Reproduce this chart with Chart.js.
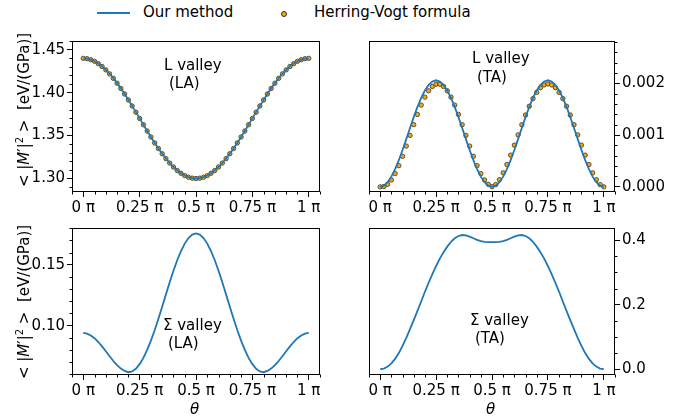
<!DOCTYPE html>
<html>
<head>
<meta charset="utf-8">
<script src="https://cdn.jsdelivr.net/npm/chart.js@4.4.0/dist/chart.umd.min.js"></script>
<style>
    html, body { margin: 0; padding: 0; background: #fff; }
    body { width: 693px; height: 420px; position: relative; overflow: hidden; font-family: "DejaVu Sans", sans-serif; color: #000; }
    canvas { position: absolute; }
    .txt { position: absolute; font-size: 15px; line-height: 18px; white-space: pre; }
    .ylab { position: absolute; width: 220px; text-align: center; font-size: 15px; line-height: 18px; white-space: pre; transform: rotate(-90deg); }
    .ylab sup { font-size: 10px; line-height: 0; vertical-align: 6px; }
    .legline { position: absolute; height: 2px; background: #1f77b4; }
    .legdot { position: absolute; width: 4px; height: 4px; border-radius: 50%; background: #ffa500; border: 0.8px solid #333; }
</style>
</head>
<body>

<div class="legline" style="left:97px; top:12px; width:33px;"></div>
<div class="txt" style="left:143px; top:3px;">Our method</div>
<div class="legdot" style="left:281px; top:11px;"></div>
<div class="txt" style="left:314px; top:3px;">Herring-Vogt formula</div>

<canvas id="chartLA_L" width="300" height="190" style="left:30px; top:30px;"></canvas>
<canvas id="chartTA_L" width="321" height="190" style="left:359px; top:30px;"></canvas>
<canvas id="chartLA_S" width="300" height="190" style="left:30px; top:217px;"></canvas>
<canvas id="chartTA_S" width="321" height="190" style="left:359px; top:217px;"></canvas>

<div class="txt" style="left:164px; top:56px;">L valley</div>
<div class="txt" style="left:169px; top:74px;">(LA)</div>
<div class="txt" style="left:472px; top:49px;">L valley</div>
<div class="txt" style="left:477px; top:68px;">(TA)</div>
<div class="txt" style="left:163px; top:316px;">Σ valley</div>
<div class="txt" style="left:168px; top:334px;">(LA)</div>
<div class="txt" style="left:470px; top:311px;">Σ valley</div>
<div class="txt" style="left:475px; top:329px;">(TA)</div>

<div class="ylab" style="left:-86px; top:101px;">&lt; |<i>M</i>′|<sup>2</sup> &gt;  [eV/(GPa)]</div>
<div class="ylab" style="left:-86px; top:293px;">&lt; |<i>M</i>′|<sup>2</sup> &gt;  [eV/(GPa)]</div>

<div class="txt" style="left:190px; top:400px; font-style:italic;">θ</div>
<div class="txt" style="left:486px; top:400px; font-style:italic;">θ</div>

<script>
// angulo en grados (0 .. 180), se pasa a unidades de pi
const thetaDeg = [0, 3, 6, 9, 12, 15, 18, 21, 24, 27, 30, 33, 36, 39, 42, 45, 48, 51, 54, 57,
    60, 63, 66, 69, 72, 75, 78, 81, 84, 87, 90, 93, 96, 99, 102, 105, 108, 111, 114, 117,
    120, 123, 126, 129, 132, 135, 138, 141, 144, 147, 150, 153, 156, 159, 162, 165, 168, 171, 174, 177, 180];

// L valley, LA
const lLA_method = [1.4400, 1.4396, 1.4385, 1.4366, 1.4339, 1.4306, 1.4266, 1.4220, 1.4168, 1.4111,
    1.4050, 1.3985, 1.3916, 1.3846, 1.3773, 1.3700, 1.3627, 1.3554, 1.3484, 1.3415,
    1.3350, 1.3289, 1.3232, 1.3180, 1.3134, 1.3094, 1.3061, 1.3034, 1.3015, 1.3004, 1.3000,
    1.3004, 1.3015, 1.3034, 1.3061, 1.3094, 1.3134, 1.3180, 1.3232, 1.3289, 1.3350,
    1.3415, 1.3484, 1.3554, 1.3627, 1.3700, 1.3773, 1.3846, 1.3916, 1.3985, 1.4050,
    1.4111, 1.4168, 1.4220, 1.4266, 1.4306, 1.4339, 1.4366, 1.4385, 1.4396, 1.4400];
const lLA_hv = [1.4400, 1.4396, 1.4384, 1.4365, 1.4338, 1.4305, 1.4265, 1.4219, 1.4167, 1.4110,
    1.4049, 1.3984, 1.3915, 1.3845, 1.3772, 1.3699, 1.3626, 1.3553, 1.3483, 1.3414,
    1.3349, 1.3288, 1.3231, 1.3179, 1.3133, 1.3093, 1.3060, 1.3033, 1.3014, 1.3003, 1.2999,
    1.3003, 1.3014, 1.3033, 1.3060, 1.3093, 1.3133, 1.3179, 1.3231, 1.3288, 1.3349,
    1.3414, 1.3483, 1.3553, 1.3626, 1.3699, 1.3772, 1.3845, 1.3915, 1.3984, 1.4049,
    1.4110, 1.4167, 1.4219, 1.4265, 1.4305, 1.4338, 1.4365, 1.4384, 1.4396, 1.4400];

// L valley, TA
const lTA_method = [0, 0.000023, 0.000089, 0.000197, 0.000341, 0.000515, 0.000712, 0.000922, 0.001138, 0.001348,
    0.001545, 0.001719, 0.001863, 0.001971, 0.002037, 0.002060, 0.002037, 0.001971, 0.001863, 0.001719,
    0.001545, 0.001348, 0.001138, 0.000922, 0.000712, 0.000515, 0.000341, 0.000197, 0.000089, 0.000023, 0,
    0.000023, 0.000089, 0.000197, 0.000341, 0.000515, 0.000712, 0.000922, 0.001138, 0.001348, 0.001545,
    0.001719, 0.001863, 0.001971, 0.002037, 0.002060, 0.002037, 0.001971, 0.001863, 0.001719, 0.001545,
    0.001348, 0.001138, 0.000922, 0.000712, 0.000515, 0.000341, 0.000197, 0.000089, 0.000023, 0];
const lTA_hv = [0, 0.000006, 0.000049, 0.000133, 0.000256, 0.000410, 0.000590, 0.000788, 0.000995, 0.001202,
    0.001400, 0.001580, 0.001734, 0.001857, 0.001941, 0.001985, 0.001985, 0.001941, 0.001857, 0.001734,
    0.001580, 0.001400, 0.001202, 0.000995, 0.000788, 0.000590, 0.000410, 0.000256, 0.000133, 0.000049, 0.000003,
    0.000043, 0.000138, 0.000270, 0.000431, 0.000613, 0.000806, 0.001005, 0.001201, 0.001388, 0.001558,
    0.001706, 0.001827, 0.001917, 0.001971, 0.001990, 0.001971, 0.001917, 0.001827, 0.001706, 0.001558,
    0.001388, 0.001201, 0.001005, 0.000806, 0.000613, 0.000431, 0.000270, 0.000138, 0.000043, 0];

// Sigma valley, LA
const sLA_method = [0.0940, 0.0935, 0.0920, 0.0897, 0.0866, 0.0830, 0.0790, 0.0749, 0.0710, 0.0676,
    0.0648, 0.0628, 0.0618, 0.0624, 0.0646, 0.0684, 0.0735, 0.0801, 0.0877, 0.0963,
    0.1057, 0.1156, 0.1257, 0.1356, 0.1451, 0.1537, 0.1612, 0.1674, 0.1720, 0.1748, 0.1757,
    0.1748, 0.1720, 0.1674, 0.1612, 0.1537, 0.1451, 0.1356, 0.1257, 0.1156, 0.1057,
    0.0963, 0.0877, 0.0801, 0.0735, 0.0684, 0.0646, 0.0624, 0.0618, 0.0628, 0.0648,
    0.0676, 0.0710, 0.0749, 0.0790, 0.0830, 0.0866, 0.0897, 0.0920, 0.0935, 0.0940];

// Sigma valley, TA
const sTA_method = [0, 0.002, 0.008, 0.018, 0.032, 0.050, 0.072, 0.097, 0.124, 0.152,
    0.181, 0.210, 0.240, 0.268, 0.295, 0.320, 0.343, 0.363, 0.380, 0.395,
    0.406, 0.413, 0.416, 0.415, 0.411, 0.406, 0.401, 0.397, 0.395, 0.394, 0.394,
    0.394, 0.395, 0.397, 0.401, 0.406, 0.411, 0.415, 0.416, 0.413, 0.406,
    0.395, 0.380, 0.363, 0.343, 0.320, 0.295, 0.268, 0.240, 0.210, 0.181,
    0.152, 0.124, 0.097, 0.072, 0.050, 0.032, 0.018, 0.008, 0.002, 0];

// ticks
const xTickValues = [0, 0.25, 0.5, 0.75, 1];
const xTickLabels = ['0 π', '0.25 π', '0.5 π', '0.75 π', '1 π'];
const yTicksLLA = [1.30, 1.35, 1.40, 1.45];
const yTicksLTA = [0, 0.001, 0.002];
const yTicksSLA = [0.10, 0.15];
const yTicksSTA = [0, 0.2, 0.4];

const colors = {
    line: '#1f77b4',
    dot: '#ffa500',
    dotEdge: '#333333',
    axis: '#000000'
};

const tickFont = { family: 'DejaVu Sans', size: 15 };

function toXY(ys) {
    return ys.map((y, i) => ({ x: thetaDeg[i] / 180, y: y }));
}

// marco completo + ticks menores (matplotlib style)
const frameMinor = {
    id: 'frameMinor',
    afterDraw(chart, args, opts) {
        const ctx = chart.ctx;
        const a = chart.chartArea;
        const xs = chart.scales.x;
        const ys = chart.scales.y;
        ctx.save();
        ctx.strokeStyle = colors.axis;
        ctx.lineWidth = 1;
        const l = Math.round(a.left) + 0.5, r = Math.round(a.right) - 0.5;
        const t = Math.round(a.top) + 0.5, b = Math.round(a.bottom) - 0.5;
        ctx.strokeRect(l, t, r - l, b - t);

        ctx.beginPath();
        const isMajor = (v, list) => list.some(m => Math.abs(m - v) < 1e-9);
        let i0 = Math.ceil(xs.min / opts.x - 1e-6);
        for (let i = i0; i * opts.x <= xs.max + 1e-9; i++) {
            const v = i * opts.x;
            if (isMajor(v, xTickValues)) continue;
            const px = Math.round(xs.getPixelForValue(v)) + 0.5;
            ctx.moveTo(px, b);
            ctx.lineTo(px, b + 3);
        }
        i0 = Math.ceil(ys.min / opts.y - 1e-6);
        for (let i = i0; i * opts.y <= ys.max + 1e-12; i++) {
            const v = i * opts.y;
            if (isMajor(v, opts.majors)) continue;
            const py = Math.round(ys.getPixelForValue(v)) + 0.5;
            if (opts.right) {
                ctx.moveTo(r, py);
                ctx.lineTo(r + 3, py);
            } else {
                ctx.moveTo(l, py);
                ctx.lineTo(l - 3, py);
            }
        }
        ctx.stroke();
        ctx.restore();
    }
};

function makePanel(id, cfg) {
    const datasets = [{
        label: 'Our method',
        data: toXY(cfg.line),
        borderColor: colors.line,
        borderWidth: 1.8,
        pointRadius: 0,
        tension: 0,
        fill: false,
        order: 0
    }];
    if (cfg.dots) {
        datasets.push({
            label: 'Herring-Vogt formula',
            data: toXY(cfg.dots),
            showLine: false,
            pointRadius: 2.2,
            pointBackgroundColor: colors.dot,
            pointBorderColor: colors.dotEdge,
            pointBorderWidth: 0.8,
            order: 1
        });
    }
    const ctx = document.getElementById(id).getContext('2d');
    return new Chart(ctx, {
        type: 'line',
        data: { datasets: datasets },
        options: {
            responsive: false,
            animation: false,
            devicePixelRatio: 1,
            layout: { padding: cfg.padding },
            plugins: {
                legend: { display: false },
                tooltip: { enabled: false },
                frameMinor: { x: 0.05, y: cfg.minorY, majors: cfg.yTicks, right: cfg.right }
            },
            scales: {
                x: {
                    type: 'linear',
                    min: -0.05,
                    max: 1.05,
                    afterBuildTicks: s => { s.ticks = xTickValues.map(v => ({ value: v })); },
                    afterFit: s => { s.height = cfg.xH; },
                    ticks: {
                        autoSkip: false,
                        maxRotation: 0,
                        padding: 2,
                        color: '#000',
                        font: tickFont,
                        callback: (v) => xTickLabels[xTickValues.indexOf(v)]
                    },
                    grid: { drawOnChartArea: false, drawTicks: true, tickLength: 5, tickColor: '#000' },
                    border: { display: false }
                },
                y: {
                    type: 'linear',
                    position: cfg.right ? 'right' : 'left',
                    min: cfg.yMin,
                    max: cfg.yMax,
                    afterBuildTicks: s => { s.ticks = cfg.yTicks.map(v => ({ value: v })); },
                    afterFit: s => { s.width = cfg.yW; },
                    ticks: {
                        autoSkip: false,
                        padding: 2,
                        color: '#000',
                        font: tickFont,
                        callback: (v) => v.toFixed(cfg.decimals)
                    },
                    grid: { drawOnChartArea: false, drawTicks: true, tickLength: 5, tickColor: '#000' },
                    border: { display: false }
                }
            }
        },
        plugins: [frameMinor]
    });
}

makePanel('chartLA_L', {
    line: lLA_method, dots: lLA_hv,
    yMin: 1.2842, yMax: 1.4602, yTicks: yTicksLLA, decimals: 2, minorY: 0.01,
    right: false, yW: 42, xH: 28, padding: { top: 6, right: 10, left: 0, bottom: 0 }
});
makePanel('chartTA_L', {
    line: lTA_method, dots: lTA_hv,
    yMin: -0.0001, yMax: 0.00282, yTicks: yTicksLTA, decimals: 3, minorY: 0.0002,
    right: true, yW: 65, xH: 28, padding: { top: 6, right: 0, left: 10, bottom: 0 }
});
makePanel('chartLA_S', {
    line: sLA_method,
    yMin: 0.0595, yMax: 0.1802, yTicks: yTicksSLA, decimals: 2, minorY: 0.01,
    right: false, yW: 42, xH: 32, padding: { top: 6, right: 10, left: 0, bottom: 0 }
});
makePanel('chartTA_S', {
    line: sTA_method,
    yMin: -0.018, yMax: 0.4378, yTicks: yTicksSTA, decimals: 1, minorY: 0.05,
    right: true, yW: 65, xH: 32, padding: { top: 6, right: 0, left: 10, bottom: 0 }
});
</script>
</body>
</html>
